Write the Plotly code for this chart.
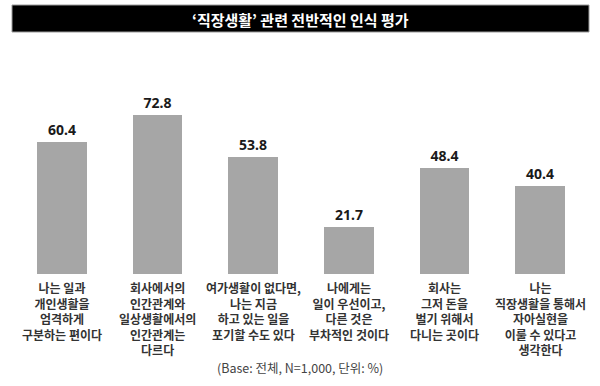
import plotly.graph_objects as go

categories = [
    "나는 일과<br>개인생활을<br>엄격하게<br>구분하는 편이다",
    "회사에서의<br>인간관계와<br>일상생활에서의<br>인간관계는<br>다르다",
    "여가생활이 없다면,<br>나는 지금<br>하고 있는 일을<br>포기할 수도 있다",
    "나에게는<br>일이 우선이고,<br>다른 것은<br>부차적인 것이다",
    "회사는<br>그저 돈을<br>벌기 위해서<br>다니는 곳이다",
    "나는<br>직장생활을 통해서<br>자아실현을<br>이룰 수 있다고<br>생각한다",
]
values = [60.4, 72.8, 53.8, 21.7, 48.4, 40.4]
value_labels = ["60.4", "72.8", "53.8", "21.7", "48.4", "40.4"]
title = "‘직장생활’ 관련 전반적인 인식 평가"
footnote = "(Base: 전체, N=1,000, 단위: %)"

W, H = 600, 386
KR = "Noto Sans CJK KR"
L, T, B = 14, 41, 112
PW, PH = 574, H - T - B
BASE = H - B


def px_x(x):
    return (x - L) / PW


def px_y(y):
    return (BASE - y) / PH


xs = list(range(len(values)))
fig = go.Figure()
fig.add_trace(go.Bar(
    x=xs, y=values, width=0.52,
    marker=dict(color="#a6a6a6", line=dict(width=0)),
    text=value_labels, textposition="outside",
    textfont=dict(family="Noto Sans", size=14, color="#1a1a1a"),
    texttemplate="<b>%{text}</b>",
    cliponaxis=False,
))

for i, c in enumerate(categories):
    fig.add_annotation(
        x=i, y=0, xref="x", yref="y", yanchor="top", yshift=-3,
        text="<b>" + c + "</b>", showarrow=False, align="center",
        font=dict(family=KR, size=12, color="#333333"),
    )

fig.add_shape(type="rect", xref="paper", yref="paper",
              x0=px_x(12), x1=px_x(589), y0=px_y(32), y1=px_y(5),
              fillcolor="#000000", line=dict(color="#9a9a9a", width=1), layer="below")
fig.add_annotation(
    xref="paper", yref="paper", x=px_x(300), y=px_y(19), yanchor="middle",
    text="<b>" + title + "</b>", showarrow=False,
    font=dict(family=KR, size=15, color="#ffffff"),
)
fig.add_annotation(
    xref="paper", yref="paper", x=px_x(300), y=px_y(367), yanchor="middle",
    text=footnote, showarrow=False,
    font=dict(family=KR, size=12.5, color="#444444"),
)

fig.update_layout(
    width=W, height=H,
    margin=dict(l=L, r=W - L - PW, t=T, b=B),
    paper_bgcolor="#ffffff", plot_bgcolor="#ffffff",
    showlegend=False,
    xaxis=dict(range=[-0.5, 5.5], visible=False, fixedrange=True),
    yaxis=dict(range=[0, PH / 2.18], visible=False, fixedrange=True),
    bargap=0,
)

fig.write_html("out.html", config={"displayModeBar": False})
